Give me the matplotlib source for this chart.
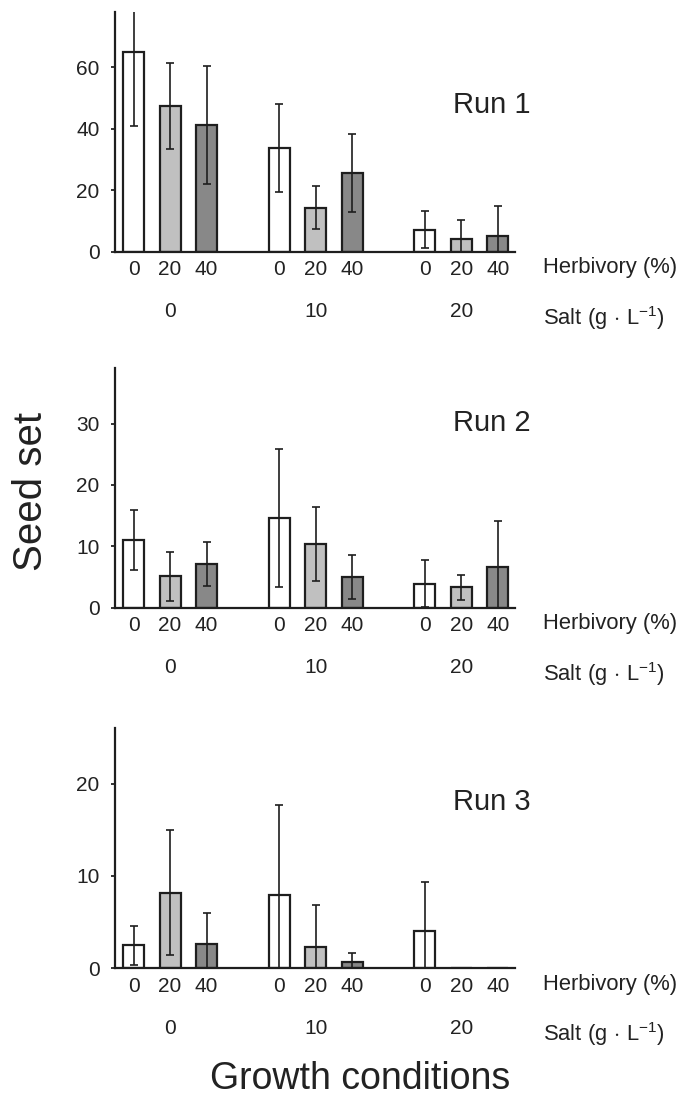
import matplotlib
matplotlib.use("Agg")
import matplotlib.pyplot as plt
import numpy as np

plt.rcParams['font.family'] = ['Liberation Sans', 'DejaVu Sans']
plt.rcParams['mathtext.fontset'] = 'custom'
plt.rcParams['mathtext.rm'] = 'Liberation Sans'
plt.rcParams['mathtext.it'] = 'Liberation Sans:italic'
plt.rcParams['text.color'] = '#222222'
plt.rcParams['xtick.color'] = '#222222'
plt.rcParams['ytick.color'] = '#222222'

# data: each run has 3 salt levels x 3 herbivory levels
salt = ["0", "10", "20"]
herbivory = ["0", "20", "40"]
run_names = ["Run 1", "Run 2", "Run 3"]

run1_mean = [65.0, 47.3, 41.2, 33.7, 14.3, 25.6, 7.1, 4.0, 5.2]
run1_err = [24.0, 14.0, 19.2, 14.3, 7.0, 12.6, 6.0, 6.4, 9.6]
run2_mean = [11.0, 5.1, 7.1, 14.6, 10.4, 5.0, 3.9, 3.3, 6.7]
run2_err = [4.9, 4.0, 3.6, 11.3, 6.0, 3.6, 3.8, 2.0, 7.4]
run3_mean = [2.5, 8.2, 2.6, 7.9, 2.3, 0.7, 4.0, 0.0, 0.0]
run3_err = [2.1, 6.8, 3.4, 9.8, 4.6, 1.0, 5.4, 0.0, 0.0]

means = [run1_mean, run2_mean, run3_mean]
errs = [run1_err, run2_err, run3_err]
ymax = [78, 39, 26]
yticks = [[0, 20, 40, 60], [0, 10, 20, 30], [0, 10, 20]]
run_label_y = [0.612, 0.77, 0.694]

fills = ['white', '#c0c0c0', '#888888']
edge = '#1e1e1e'

W, H = 693, 1097
fig = plt.figure(figsize=(W / 100, H / 100), dpi=100)

# bar positions: 3 groups of 3 with a gap of one slot between groups
xpos = np.array([g * 4 + h for g in range(len(salt)) for h in range(len(herbivory))])
colors = [fills[h] for g in range(len(salt)) for h in range(len(herbivory))]
base_px = [251.7, 607.7, 968.3]
top_px = [12, 368.3, 728.3]

for i in range(3):
    ax = fig.add_axes([115 / W, 1 - base_px[i] / H, 400 / W, (base_px[i] - top_px[i]) / H])
    m = np.array(means[i])
    e = np.array(errs[i])
    ax.bar(xpos, m, width=0.58, color=colors, edgecolor=edge, linewidth=1.6, zorder=2)
    ok = e > 0
    ax.errorbar(xpos[ok], m[ok], yerr=e[ok], fmt='none', ecolor=edge,
                elinewidth=1.2, capsize=2.9, capthick=1.2, zorder=3)

    ax.set_xlim(-0.514, 10.475)
    ax.set_ylim(0, ymax[i])
    ax.set_yticks(yticks[i])
    ax.set_xticks(xpos)
    ax.set_xticklabels(herbivory * 3)
    ax.tick_params(axis='y', length=3, width=1.3, pad=8, labelsize=15, direction='out')
    ax.tick_params(axis='x', length=0, pad=6, labelsize=15)
    for s in ['top', 'right']:
        ax.spines[s].set_visible(False)
    for s in ['left', 'bottom']:
        ax.spines[s].set_linewidth(1.6)
        ax.spines[s].set_color(edge)

    for g, lab in enumerate(salt):
        ax.annotate(lab, xy=(g * 4 + 1, 0), xycoords=('data', 'axes fraction'),
                    xytext=(0, -60 * 0.72), textcoords='offset points',
                    ha='center', va='center', fontsize=15)

    ax.text(8.77, run_label_y[i], run_names[i], transform=ax.get_xaxis_transform(),
            ha='left', va='center', fontsize=21)

    fig.text(543 / W, 1 - (base_px[i] + 16) / H, 'Herbivory (%)', ha='left', va='center', fontsize=15.8)
    fig.text(543 / W, 1 - (base_px[i] + 66) / H, r'Salt (g$\,\cdot\,$L$^{-1}$)', ha='left', va='center', fontsize=15.8)

fig.text(31 / W, 1 - 491 / H, 'Seed set', rotation=90, ha='center', va='center', fontsize=29)
fig.text(360 / W, 1 - 1079 / H, 'Growth conditions', ha='center', va='center', fontsize=27)

fig.savefig('out.png', dpi=100)
